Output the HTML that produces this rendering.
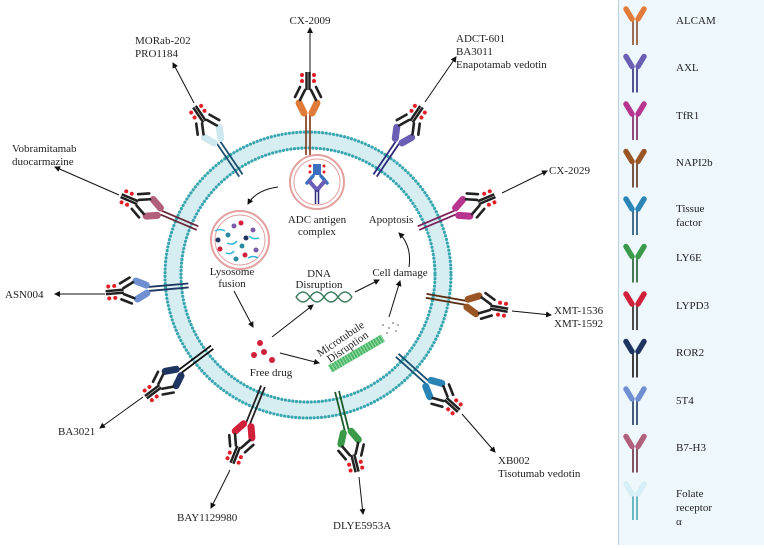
<!DOCTYPE html>
<html><head><meta charset="utf-8"><style>
body{margin:0;background:#fff;width:764px;height:545px;overflow:hidden}
text{font-family:"Liberation Serif",serif;font-size:11px;fill:#222}
</style></head><body>
<svg id="s" width="764" height="545" viewBox="0 0 764 545" xmlns="http://www.w3.org/2000/svg">
<defs>
<marker id="ar" markerWidth="6" markerHeight="6" refX="5" refY="3" orient="auto"><path d="M0,0 L6,3 L0,6z" fill="#111"/></marker>
</defs>
<rect x="618" y="0" width="146" height="545" fill="#eef7fc"/>
<line x1="618.5" y1="0" x2="618.5" y2="545" stroke="#b9cfd8"/>
<!-- membrane -->
<circle cx="308" cy="275" r="135" fill="none" stroke="#d6eef2" stroke-width="17"/>
<circle cx="308" cy="275" r="143" fill="none" stroke="#3aa6b0" stroke-width="3.2" stroke-dasharray="0.1 3.6" stroke-linecap="round"/>
<circle cx="308" cy="275" r="127" fill="none" stroke="#3aa6b0" stroke-width="3.2" stroke-dasharray="0.1 3.6" stroke-linecap="round"/>
<g id="rec"></g>
<!-- center contents -->
<circle cx="317" cy="182" r="27" fill="#fff" stroke="#e3a0a0" stroke-width="2"/>
<circle cx="317" cy="182" r="23" fill="none" stroke="#e3a0a0" stroke-width="1"/>
<rect x="313" y="164" width="8" height="11" fill="#3c6fc0"/>
<g fill="#e01f26"><circle cx="310" cy="166" r="1.5"/><circle cx="310" cy="172" r="1.5"/><circle cx="324" cy="166" r="1.5"/><circle cx="324" cy="172" r="1.5"/></g>
<path d="M313,176 l-6,7 M321,176 l6,7" stroke="#3c6fc0" stroke-width="3.5" stroke-linecap="round"/>
<path d="M317,190 l-7,-8 M317,190 l7,-8" stroke="#6a5fb5" stroke-width="4" stroke-linecap="round"/>
<path d="M315.5,190 v14 M318.5,190 v14" stroke="#2d2a7a" stroke-width="1.5"/>
<text x="317" y="223" text-anchor="middle">ADC antigen</text>
<text x="317" y="235" text-anchor="middle">complex</text>
<circle cx="240" cy="240" r="29" fill="#fff" stroke="#e3a0a0" stroke-width="2"/>
<circle cx="240" cy="240" r="25" fill="none" stroke="#e3a0a0" stroke-width="1"/>
<g fill="#2a8aa0"><circle cx="228" cy="235" r="2.5"/><circle cx="242" cy="246" r="2.5"/><circle cx="236" cy="259" r="2.5"/></g>
<g fill="#7b5ca8"><circle cx="234" cy="226" r="2.5"/><circle cx="253" cy="230" r="2.5"/><circle cx="256" cy="250" r="2.5"/></g>
<g fill="#d0203a"><circle cx="241" cy="223" r="2.5"/><circle cx="220" cy="249" r="2.5"/><circle cx="245" cy="255" r="2.5"/></g>
<g fill="#1d3560"><circle cx="218" cy="240" r="2.5"/><circle cx="246" cy="238" r="2.5"/></g>
<path d="M215,231 q5,-3 10,0 M227,243 q6,3 10,-2 M249,236 q4,4 10,2 M226,253 q5,2 8,-2 M248,258 q5,-3 10,0" stroke="#30b8d8" stroke-width="1.5" fill="none"/>
<text x="232" y="275" text-anchor="middle">Lysosome</text>
<text x="232" y="287" text-anchor="middle">fusion</text>
<text x="319" y="277" text-anchor="middle" font-size="10.5">DNA</text>
<text x="319" y="288" text-anchor="middle" font-size="10.5">Disruption</text>
<path d="M296,297 q7,-10 14,0 t14,0 t14,0 t14,0 M296,297 q7,10 14,0 t14,0 t14,0 t14,0" stroke="#3a7a5a" stroke-width="1.5" fill="none"/>
<text x="400" y="276" text-anchor="middle">Cell damage</text>
<text x="391" y="223" text-anchor="middle">Apoptosis</text>
<g fill="#d0203a"><circle cx="260" cy="343" r="3"/><circle cx="264" cy="352" r="3"/><circle cx="254" cy="355" r="3"/><circle cx="272" cy="360" r="3"/></g>
<text x="271" y="376" text-anchor="middle">Free drug</text>
<text transform="translate(320,357) rotate(-34)" font-size="10">Microtubule</text>
<text transform="translate(330,363) rotate(-34)" font-size="10">Disruption</text>
<path d="M330,369 L383,338" stroke="#4cb56a" stroke-width="8"/>
<path d="M330,369 L383,338" stroke="#9be0a8" stroke-width="8" stroke-dasharray="1 2"/>
<g fill="#999"><circle cx="383" cy="325" r="1"/><circle cx="389" cy="328" r="1"/><circle cx="393" cy="323" r="1"/><circle cx="387" cy="333" r="1"/><circle cx="396" cy="331" r="1"/><circle cx="398" cy="325" r="1"/></g>
<g stroke="#111" fill="none" marker-end="url(#ar)" stroke-width="1">
<path d="M278,187 Q256,190 248,204"/>
<path d="M234,291 L253,327"/>
<path d="M272,337 L313,305"/>
<path d="M280,353 L319,363"/>
<path d="M355,292 L379,280"/>
<path d="M389,317 L400,281"/>
<path d="M409,267 Q412,246 399,233"/>
<!-- label arrows -->
<path d="M310,77 L310,28"/>
<path d="M194,103 L173,63"/>
<path d="M425,102 L456,57"/>
<path d="M119,195 L55,167"/>
<path d="M502,193 L547,171"/>
<path d="M105,294 L55,294"/>
<path d="M512,311 L551,315"/>
<path d="M143,397 L100,428"/>
<path d="M462,414 L495,452"/>
<path d="M230,470 L211,508"/>
<path d="M359,477 L363,514"/>
</g>
<text x="310" y="24" text-anchor="middle">CX-2009</text>
<text x="135" y="44">MORab-202</text><text x="135" y="57">PRO1184</text>
<text x="456" y="42">ADCT-601</text><text x="456" y="55">BA3011</text><text x="456" y="68">Enapotamab vedotin</text>
<text x="12" y="152">Vobramitamab</text><text x="12" y="165">duocarmazine</text>
<text x="549" y="174">CX-2029</text>
<text x="5" y="298">ASN004</text>
<text x="554" y="314">XMT-1536</text><text x="554" y="327">XMT-1592</text>
<text x="58" y="435">BA3021</text>
<text x="498" y="464">XB002</text><text x="498" y="477">Tisotumab vedotin</text>
<text x="177" y="521">BAY1129980</text>
<text x="333" y="529">DLYE5953A</text>
<g id="leg"></g>
<text x="676" y="24">ALCAM</text>
<text x="676" y="71">AXL</text>
<text x="676" y="119">TfR1</text>
<text x="676" y="166">NAPI2b</text>
<text x="676" y="212">Tissue</text><text x="676" y="226">factor</text>
<text x="676" y="261">LY6E</text>
<text x="676" y="309">LYPD3</text>
<text x="676" y="356">ROR2</text>
<text x="676" y="404">5T4</text>
<text x="676" y="451">B7-H3</text>
<text x="676" y="497">Folate</text><text x="676" y="511">receptor</text><text x="676" y="525">α</text>
</svg>
<script>
var NS="http://www.w3.org/2000/svg";
function el(p,t,a){var e=document.createElementNS(NS,t);for(var k in a)e.setAttribute(k,a[k]);p.appendChild(e);return e;}
var R=[[0,"#e07b39","#8a4a2a"],[34,"#6a5fb5","#2d2a7a"],[67,"#b8358f","#7a1f5a"],[100,"#9a5525","#5a2f15"],[132,"#2a85b5","#1a4f70"],[166,"#3a9a4a","#1f5a2a"],[202,"#d0203a","#222"],[233,"#1d3560","#111"],[265,"#6f8fd0","#1d3560"],[293,"#b0607a","#6a2a3a"],[326,"#cde8ef","#1d4f70"]];
var rg=document.getElementById("rec");
R.forEach(function(r){
 var g=el(rg,"g",{transform:"translate(308,275) rotate("+r[0]+")"});
 el(g,"path",{d:"M-2,-120 V-160 M2,-120 V-160",stroke:r[2],"stroke-width":1.8,fill:"none"});
 el(g,"path",{d:"M-4,-162 L-9,-172 M4,-162 L9,-172",stroke:r[1],"stroke-width":7,"stroke-linecap":"round",fill:"none"});
 el(g,"path",{d:"M-1.5,-185 V-203 M1.5,-185 V-203",stroke:"#222","stroke-width":2.5});
 el(g,"path",{d:"M-3,-185 L-8,-175 M3,-185 L8,-175 M-8,-188 L-13,-178 M8,-188 L13,-178",stroke:"#222","stroke-width":2.6,"stroke-linecap":"round"});
 [[-6,-194],[-6,-200],[6,-194],[6,-200]].forEach(function(p){el(g,"circle",{cx:p[0],cy:p[1],r:2,fill:"#e01f26"});});
});
var lg=document.getElementById("leg");
R.forEach(function(c,i){
 var y=45+i*47.5;
 var g=el(lg,"g",{transform:"translate(635,"+y+")"});
 if(i==10){c=["#d6eef5","#4aa8b4"];}
 el(g,"path",{d:"M-2,0 V-24 M2,0 V-24",stroke:c[2]||c[1],"stroke-width":1.6,fill:"none"});
 el(g,"path",{d:"M-3,-26 L-9,-36 M3,-26 L9,-36",stroke:c[1]==="#4aa8b4"?"#d6eef5":c[1],"stroke-width":5.5,"stroke-linecap":"round",fill:"none"});
});
</script>
</body></html>
